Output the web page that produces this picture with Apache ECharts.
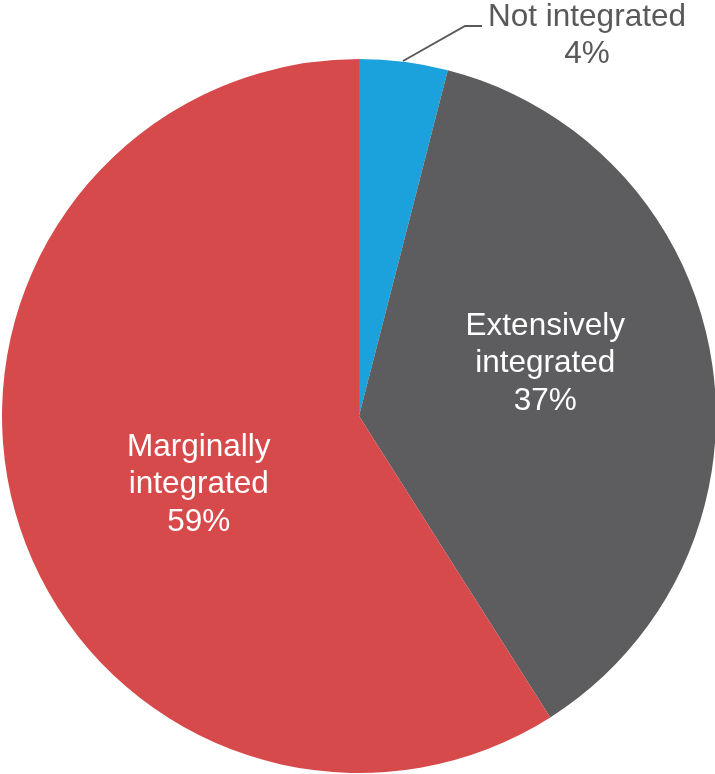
<!DOCTYPE html>
<html><head><meta charset="utf-8">
<script src="https://cdn.jsdelivr.net/npm/echarts@6/dist/echarts.min.js"></script>
<style>html,body{margin:0;padding:0;background:#fff}#c{width:715px;height:774px}</style>
</head><body><div id="c"></div>
<script>
const categories = ['Not integrated', 'Extensively integrated', 'Marginally integrated'];
const labelTexts = ['Not integrated\n4%', 'Extensively\nintegrated\n37%', 'Marginally\nintegrated\n59%'];
const values = [4, 37, 59];
const colors = ['#1BA1DB', '#5D5D5F', '#D64A4B'];

const chart = echarts.init(document.getElementById('c'));
const font = '"Liberation Sans", Arial, sans-serif';
const data = categories.map((name, i) => ({
  name: name,
  value: values[i],
  itemStyle: { color: colors[i] },
  label: i === 0 ? {
    position: 'outside', color: '#595959'
  } : {
    position: 'inside', color: '#ffffff',
    offset: i === 1 ? [7, -24] : [14, 18]
  },
  labelLine: { show: i === 0, lineStyle: { color: '#595959', width: 2 } }
}));
chart.setOption({
  animation: false,
  series: [{
    type: 'pie',
    center: [359, 416],
    radius: 357,
    startAngle: 90,
    clockwise: true,
    data: data,
    itemStyle: { borderWidth: 0 },
    label: {
      formatter: p => labelTexts[p.dataIndex],
      fontFamily: font,
      fontSize: 31.5,
      lineHeight: 37.5,
      align: 'center'
    },
    labelLayout: function (p) {
      if (p.dataIndex === 0) {
        return {
          x: 587, y: 36, align: 'center', verticalAlign: 'middle',
          labelLinePoints: [[403, 61], [465, 26], [482, 26]]
        };
      }
      return {};
    }
  }]
});
</script></body></html>
